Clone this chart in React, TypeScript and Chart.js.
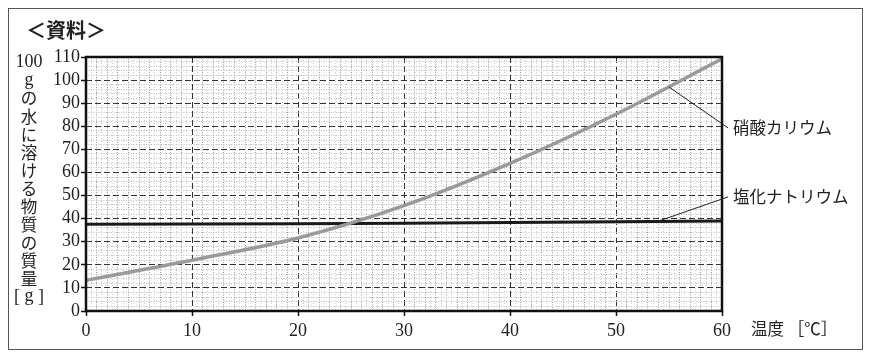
import React, { useEffect, useRef } from 'react';
import { Chart, registerables } from 'chart.js';

Chart.register(...registerables);

// ---- data ----
const temperatures = [0, 10, 20, 30, 40, 50, 60];
const potassiumNitrate = [13.3, 22.0, 31.6, 45.6, 63.9, 85.2, 109.2];
const sodiumChloride = [37.6, 37.7, 37.8, 38.0, 38.3, 38.7, 39.0];
const seriesNames = ['硝酸カリウム', '塩化ナトリウム'];
// where each leader line touches its curve (temperature, mass) and the mass level of its label
const anchorTemps = [55, 54];
const anchorValues = [97, 38.9];
const labelValues = [79.3, 49.4];
const chartTitle = '＜資料＞';
const yTitleLines = ['100', 'g', 'の', '水', 'に', '溶', 'け', 'る', '物', '質', 'の', '質', '量'];
const yTitleUnit = ['[', 'g', ']'];
const xTitle = '温度 ［℃］';
const xMin = 0, xMax = 60, xStep = 0.5;
const yMin = 0, yMax = 110, yStep = 2;
const majorEvery = 10;

const SERIF = '"Liberation Serif", "Noto Sans CJK JP", serif';
const CJK = '"Noto Sans CJK JP", sans-serif';

const isMult = (v: number, m: number) => Math.abs(v / m - Math.round(v / m)) < 1e-6;

const overlay = {
  id: 'overlay',
  afterDraw(chart: any) {
    const { ctx, chartArea, scales } = chart;
    const xs = scales.x, ys = scales.y;
    ctx.save();
    // frame
    ctx.lineWidth = 2.5;
    ctx.strokeStyle = '#111';
    ctx.setLineDash([]);
    ctx.strokeRect(chartArea.left, chartArea.top, chartArea.right - chartArea.left, chartArea.bottom - chartArea.top);

    // title
    ctx.fillStyle = '#222';
    ctx.font = 'bold 20px ' + CJK;
    ctx.textAlign = 'left';
    ctx.textBaseline = 'middle';
    ctx.fillText(chartTitle, 17, 21);

    // vertical y title
    ctx.textAlign = 'center';
    const step = 18.1;
    yTitleLines.forEach((s, i) => {
      ctx.font = /[0-9a-z]/.test(s) ? '18px ' + SERIF : '16.5px ' + CJK;
      ctx.fillText(s, 20, 53 + i * step);
    });
    const yu = 53 + yTitleLines.length * step;
    ctx.font = '18px ' + SERIF;
    ctx.fillText(yTitleUnit[0], 8, yu);
    ctx.fillText(yTitleUnit[1], 20, yu - 1);
    ctx.fillText(yTitleUnit[2], 32, yu);

    // x title
    ctx.textAlign = 'left';
    ctx.font = '16.5px ' + CJK;
    ctx.fillText(xTitle, chartArea.right + 29, chartArea.bottom + 18);

    // leader lines and series labels
    ctx.lineWidth = 1;
    ctx.strokeStyle = '#222';
    seriesNames.forEach((name, i) => {
      const x0 = xs.getPixelForValue(anchorTemps[i]);
      const y0 = ys.getPixelForValue(anchorValues[i]);
      const y1 = ys.getPixelForValue(labelValues[i]);
      const x1 = chartArea.right + 6;
      ctx.beginPath();
      ctx.moveTo(x0, y0);
      ctx.lineTo(x1, y1);
      ctx.stroke();
      ctx.font = '16.5px ' + CJK;
      ctx.fillText(name, chartArea.right + 11, y1);
    });
    ctx.restore();
  },
};

function gridColorX(ctx: any) {
  const v = ctx.tick ? ctx.tick.value : 0;
  if (isMult(v, majorEvery)) return '#333';
  if (isMult(v, 1)) return '#9a9a9a';
  return '#cfcfcf';
}
function gridDashX(ctx: any) {
  const v = ctx.tick ? ctx.tick.value : 0;
  if (isMult(v, majorEvery)) return [6, 3];
  if (isMult(v, 1)) return [1, 1.5];
  return [1, 2];
}
function gridColorY(ctx: any) {
  const v = ctx.tick ? ctx.tick.value : 0;
  if (isMult(v, majorEvery)) return '#333';
  return '#bcbcbc';
}
function gridDashY(ctx: any) {
  const v = ctx.tick ? ctx.tick.value : 0;
  if (isMult(v, majorEvery)) return [6, 3];
  return [1, 1.5];
}
function tickColor(ctx: any) {
  const v = ctx.tick ? ctx.tick.value : 0;
  return isMult(v, majorEvery) ? '#111' : 'rgba(0,0,0,0)';
}
const label = (v: any) => (isMult(Number(v), majorEvery) ? String(Math.round(Number(v))) : '');

export default function App() {
  const ref = useRef<HTMLCanvasElement>(null);
  useEffect(() => {
    const chart = new Chart(ref.current as HTMLCanvasElement, {
      type: 'line',
      data: {
        datasets: [
          {
            label: seriesNames[0],
            data: temperatures.map((t, i) => ({ x: t, y: potassiumNitrate[i] })),
            borderColor: '#9a9a9a',
            borderWidth: 3.5,
            pointRadius: 0,
            cubicInterpolationMode: 'monotone',
          },
          {
            label: seriesNames[1],
            data: temperatures.map((t, i) => ({ x: t, y: sodiumChloride[i] })),
            borderColor: '#1a1a1a',
            borderWidth: 3,
            pointRadius: 0,
            tension: 0,
          },
        ],
      },
      options: {
        animation: false,
        responsive: false,
        events: [],
        layout: { padding: { left: 0, right: 140, top: 48, bottom: 0 } },
        plugins: {
          legend: { display: false },
          title: { display: false },
          tooltip: { enabled: false },
        },
        scales: {
          x: {
            type: 'linear',
            min: xMin,
            max: xMax,
            ticks: {
              stepSize: xStep,
              autoSkip: false,
              maxRotation: 0,
              callback: label,
              font: { family: SERIF, size: 18 },
              color: '#222',
              padding: 4,
            },
            grid: {
              color: gridColorX,
              lineWidth: 1,
              tickLength: 5,
              tickColor: tickColor,
              tickWidth: 1.5,
            },
            border: { display: false, dash: gridDashX },
            afterFit: (s: any) => { s.height = 38; },
          },
          y: {
            type: 'linear',
            min: yMin,
            max: yMax,
            ticks: {
              stepSize: yStep,
              autoSkip: false,
              callback: label,
              font: { family: SERIF, size: 18 },
              color: '#222',
              padding: 1,
            },
            grid: {
              color: gridColorY,
              lineWidth: 1,
              tickLength: 5,
              tickColor: tickColor,
              tickWidth: 1.5,
            },
            border: { display: false, dash: gridDashY },
            afterFit: (s: any) => { s.width = 77; },
          },
        },
      } as any,
      plugins: [overlay],
    });
    return () => chart.destroy();
  }, []);
  return (
    <div
      style={{
        width: 855,
        height: 342,
        border: '1px solid #555',
        boxSizing: 'border-box',
        background: '#fff',
      }}
    >
      <canvas ref={ref} width={853} height={340} style={{ display: 'block', width: 853, height: 340 }} />
    </div>
  );
}
